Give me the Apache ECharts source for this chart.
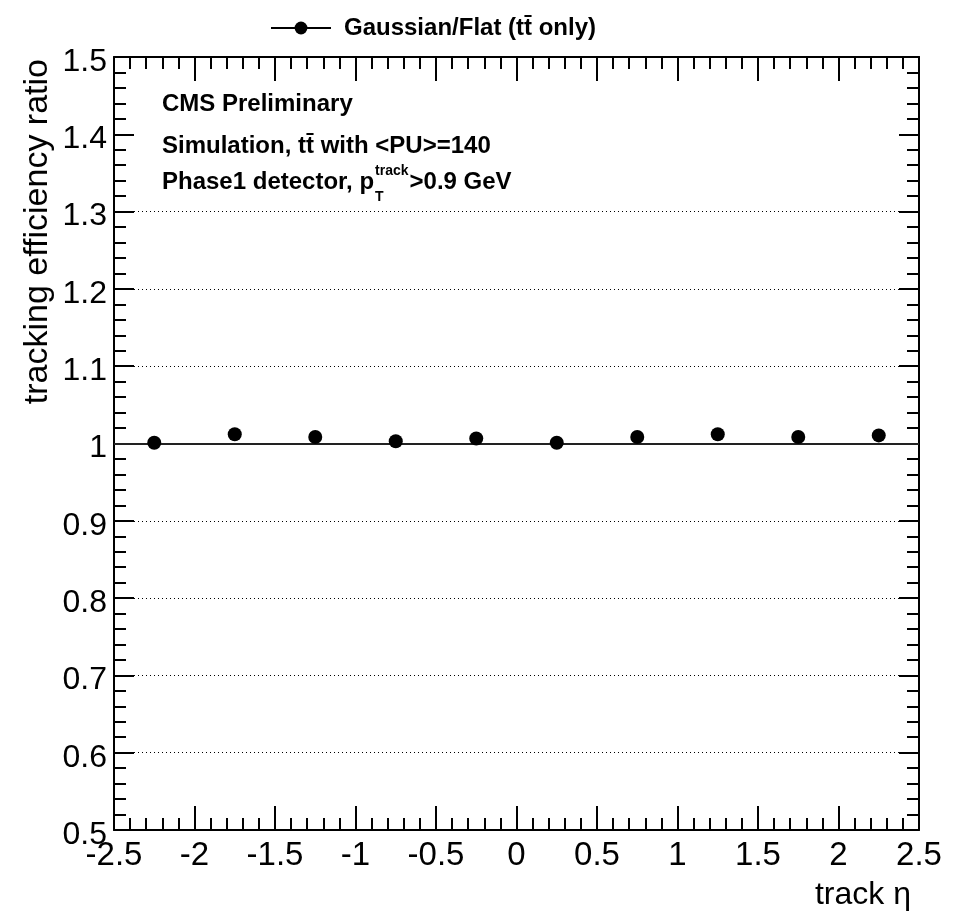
<!DOCTYPE html>
<html>
<head>
<meta charset="utf-8">
<script src="https://cdn.jsdelivr.net/npm/echarts@6/dist/echarts.min.js"></script>
<style>
  html, body { margin: 0; padding: 0; background: #fff; }
  #chart { width: 959px; height: 914px; }
</style>
</head>
<body>
<div id="chart"></div>
<script>
// data
const etaBins = [-2.25, -1.75, -1.25, -0.75, -0.25, 0.25, 0.75, 1.25, 1.75, 2.25];
const ratioValues = [1.001, 1.012, 1.0085, 1.003, 1.0065, 1.001, 1.0085, 1.012, 1.0085, 1.0105];
const xRange = [-2.5, 2.5];
const yRange = [0.5, 1.5];
const referenceLevel = 1.0;
const seriesName = 'Gaussian/Flat (tt\u0304 only)';

const FONT = '"Liberation Sans", Arial, Helvetica, sans-serif';
const black = '#000';

// grid split lines: 1.0 is drawn as a solid line, 1.4 is hidden under the text box
const gridColors = ['transparent', black, black, black, black, 'transparent',
  black, black, black, 'transparent', 'transparent'];

const chart = echarts.init(document.getElementById('chart'));

// where the p_T^track label pieces go
const ctx = document.createElement('canvas').getContext('2d');
ctx.font = 'bold 24px ' + FONT;
const phaseW = ctx.measureText('Phase1 detector, p').width;
ctx.font = 'bold 14px ' + FONT;
const trackW = ctx.measureText('track').width;
const txtX = 162;

function xAxisBase(pos, showLabel) {
  return {
    type: 'value', position: pos, min: xRange[0], max: xRange[1], interval: 0.5,
    axisLine: { show: true, onZero: false, lineStyle: { color: black, width: 2 } },
    axisTick: { show: true, inside: true, length: 24, lineStyle: { color: black, width: 2 } },
    minorTick: { show: true, splitNumber: 5, length: 12, lineStyle: { color: black, width: 2 } },
    splitLine: { show: false },
    axisLabel: { show: showLabel, color: black, fontSize: 33, fontFamily: FONT, margin: 9 }
  };
}
function yAxisBase(pos, showLabel) {
  return {
    type: 'value', position: pos, min: yRange[0], max: yRange[1], interval: 0.1,
    axisLine: { show: true, onZero: false, lineStyle: { color: black, width: 2 } },
    axisTick: { show: true, inside: true, length: 20, lineStyle: { color: black, width: 2 } },
    minorTick: { show: true, splitNumber: 5, length: 12, lineStyle: { color: black, width: 2 } },
    splitLine: { show: showLabel, lineStyle: { color: gridColors, width: 1, type: [1, 3] } },
    axisLabel: { show: showLabel, color: black, fontSize: 32, fontFamily: FONT, margin: 7,
      verticalAlign: 'top', lineHeight: 10 }
  };
}

const option = {
  animation: false,
  backgroundColor: '#fff',
  grid: { left: 114, right: 40, top: 57, bottom: 84 },
  legend: {
    left: 265, top: 11,
    itemWidth: 60, itemHeight: 16,
    lineStyle: { width: 2, color: black, opacity: 1 },
    textStyle: { color: black, fontSize: 24, fontWeight: 'bold', fontFamily: FONT, padding: [0, 0, 0, 8] },
    data: [seriesName]
  },
  xAxis: [xAxisBase('bottom', true), xAxisBase('top', false)],
  yAxis: [yAxisBase('left', true), yAxisBase('right', false)],
  series: [{
    name: seriesName,
    type: 'line',
    xAxisIndex: 0, yAxisIndex: 0,
    data: etaBins.map((x, i) => [x, ratioValues[i]]),
    symbol: 'circle', symbolSize: 14, showSymbol: true,
    itemStyle: { color: black },
    lineStyle: { width: 0, color: black },
    z: 5,
    markLine: {
      silent: true, symbol: 'none', label: { show: false },
      lineStyle: { color: '#222', width: 2, type: 'solid' },
      data: [{ yAxis: referenceLevel }]
    }
  }],
  graphic: [
    { type: 'text', x: txtX, y: 104, style: { text: 'CMS Preliminary', font: 'bold 24px ' + FONT, fill: black, textVerticalAlign: 'middle' } },
    { type: 'text', x: txtX, y: 146, style: { text: 'Simulation, tt\u0304 with <PU>=140', font: 'bold 24px ' + FONT, fill: black, textVerticalAlign: 'middle' } },
    { type: 'text', x: txtX, y: 182, style: { text: 'Phase1 detector, p', font: 'bold 24px ' + FONT, fill: black, textVerticalAlign: 'middle' } },
    { type: 'text', x: txtX + phaseW + 1, y: 171, style: { text: 'track', font: 'bold 14px ' + FONT, fill: black, textVerticalAlign: 'middle' } },
    { type: 'text', x: txtX + phaseW + 1, y: 197, style: { text: 'T', font: 'bold 14px ' + FONT, fill: black, textVerticalAlign: 'middle' } },
    { type: 'text', x: txtX + phaseW + trackW + 2, y: 182, style: { text: '>0.9 GeV', font: 'bold 24px ' + FONT, fill: black, textVerticalAlign: 'middle' } },
    // axis titles
    { type: 'text', x: 38, y: 59, rotation: Math.PI / 2, style: { text: 'tracking efficiency ratio', font: '34px ' + FONT, fill: black, textAlign: 'right', textVerticalAlign: 'middle' } },
    { type: 'text', x: 911, y: 895, style: { text: 'track \u03b7', font: '32px ' + FONT, fill: black, textAlign: 'right', textVerticalAlign: 'middle' } }
  ]
};

chart.setOption(option);
</script>
</body>
</html>
